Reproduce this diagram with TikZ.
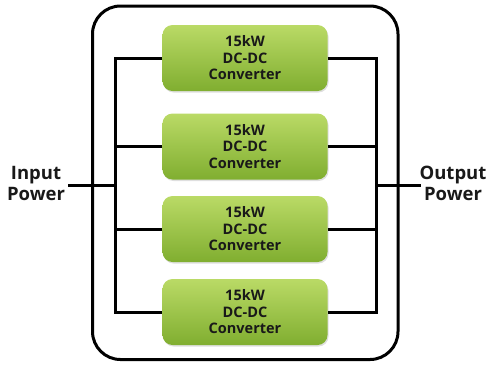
\documentclass[tikz,border=0pt]{standalone}
\usepackage{fontspec}
\setmainfont{Open Sans}
\usetikzlibrary{shadows}
\definecolor{gtop}{RGB}{186,218,102}
\definecolor{gbot}{RGB}{128,174,48}
\definecolor{txt}{RGB}{25,25,25}
\tikzset{
  conv/.style={rounded corners=10pt, minimum width=165pt, minimum height=66pt,
    top color=gtop, bottom color=gbot, draw=none,
    drop shadow={opacity=0.25, shadow xshift=1pt, shadow yshift=-1.5pt},
    align=center, font=\bfseries\fontsize{14.5}{16.5}\selectfont, text=txt, inner sep=0pt},
  wire/.style={line width=3pt, black, line join=miter},
  lbl/.style={align=center, font=\bfseries\fontsize{18.5}{21}\selectfont, text=txt, inner sep=0pt}
}
\begin{document}
\begin{tikzpicture}[x=1pt,y=-1pt]
\useasboundingbox (0,0) rectangle (486,365);
\draw[line width=3pt, rounded corners=28pt] (92.5,6) rectangle (398,359.5);
\node[conv] (b1) at (245,58) {15kW\\DC-DC\\Converter};
\node[conv] (b2) at (245,146.5) {15kW\\DC-DC\\Converter};
\node[conv] (b3) at (245,229) {15kW\\DC-DC\\Converter};
\node[conv] (b4) at (245,312) {15kW\\DC-DC\\Converter};
\coordinate (L1) at (115,58);
\coordinate (L4) at (115,312);
\coordinate (R1) at (376,58);
\coordinate (R4) at (376,312);
\coordinate (LI) at (115,185);
\coordinate (RO) at (376,185);
\coordinate (inA) at (68,185);
\coordinate (outA) at (421,185);
\draw[wire] (b1.west) -- (L1) -- (L4) -- (b4.west);
\draw[wire] (b1.east) -- (R1) -- (R4) -- (b4.east);
\draw[wire] (b2.west) -- (b2.west -| L1);
\draw[wire] (b3.west) -- (b3.west -| L1);
\draw[wire] (b2.east) -- (b2.east -| R1);
\draw[wire] (b3.east) -- (b3.east -| R1);
\draw[wire] (inA) -- (LI);
\draw[wire] (RO) -- (outA);
\node[lbl] (inp) at (36,183) {Input\\Power};
\node[lbl] (outp) at (453,183) {Output\\Power};
\end{tikzpicture}
\end{document}
